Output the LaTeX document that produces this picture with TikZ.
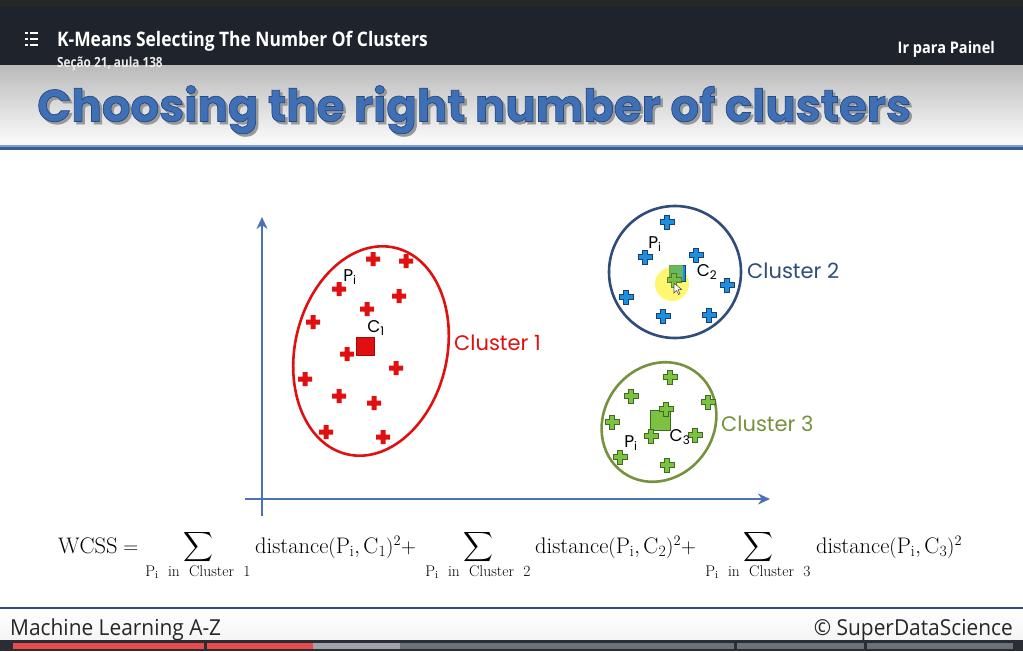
\documentclass[tikz,border=0pt]{standalone}
\usepackage{fontspec}
\usepackage{amsmath}
\setmainfont{Latin Modern Roman}
\newfontfamily\popfont{Poppins}
\newfontfamily\osfont{Open Sans}
\newfontface\poptitle{Poppins Bold}[FakeBold=1.6]
\usetikzlibrary{arrows.meta}
\definecolor{topbar}{HTML}{1F232B}
\definecolor{titleblue}{HTML}{3F6FB5}
\definecolor{titleedge}{HTML}{284A82}
\definecolor{axisblue}{HTML}{4A72B5}
\definecolor{divblue}{HTML}{3A5D96}
\definecolor{cred}{HTML}{E01010}
\definecolor{c2edge}{HTML}{2E4D7B}
\definecolor{bluefill}{HTML}{1B8FE0}
\definecolor{blueedge}{HTML}{1B3F6F}
\definecolor{greenfill}{HTML}{7CC242}
\definecolor{greenedge}{HTML}{3E6B1F}
\definecolor{olive}{HTML}{76923C}
\definecolor{barbg}{HTML}{2A2D33}
\definecolor{barred}{HTML}{E94B4B}
\definecolor{barlight}{HTML}{A0A3A8}
\definecolor{bargray}{HTML}{6C7077}
\tikzset{
  plusmark/.pic={\path[pic actions] (-7,-2.5) -- (-2.5,-2.5) -- (-2.5,-7) -- (2.5,-7) -- (2.5,-2.5) -- (7,-2.5) -- (7,2.5) -- (2.5,2.5) -- (2.5,7) -- (-2.5,7) -- (-2.5,2.5) -- (-7,2.5) -- cycle;},
  redplus/.style={fill=cred},
  blueplus/.style={fill=bluefill,draw=blueedge,line width=1pt},
  greenplus/.style={fill=greenfill,draw=greenedge,line width=1pt},
  lbl/.style={inner sep=0pt,font=\popfont\fontsize{17}{20}\selectfont},
  clab/.style={inner sep=0pt,anchor=west,font=\popfont\fontsize{21}{24}\selectfont},
  axis/.style={draw=axisblue,line width=2.6pt,-{Stealth[length=12pt,width=11pt]}},
  mathtxt/.style={inner sep=0pt,anchor=base west,font=\fontsize{22.5}{27}\selectfont},
  sumsym/.style={inner sep=0pt,font=\fontsize{22.5}{27}\selectfont},
  sublim/.style={inner sep=0pt,anchor=base,font=\fontsize{15.5}{18}\selectfont},
  titlefont/.style={anchor=base west,inner sep=0pt,font=\poptitle\fontsize{45}{50}\selectfont},
}
\begin{document}
\begin{tikzpicture}[x=1pt,y=-1pt]
\useasboundingbox (0,0) rectangle (1023,651);
% backgrounds
\fill[white] (0,0) rectangle (1023,651);
\fill[topbar] (0,0) rectangle (1023,65);
\fill[black!85] (0,0) rectangle (1023,7);
\shade[top color=black!27,bottom color=black!2] (0,65) rectangle (1023,142);
\fill[white!97!black] (0,142) rectangle (1023,146);
\fill[divblue] (0,145) rectangle (1023,150);
\fill[axisblue!70] (0,145) rectangle (1023,146.5);
% top bar content
\foreach \yy in {33,39,45}{\fill[white] (25,\yy-1) rectangle (28,\yy+1); \fill[white] (30,\yy-1) rectangle (38,\yy+1);}
\node[anchor=base west,inner sep=0pt,text=white,font=\osfont\bfseries\fontsize{20}{22}\selectfont,xscale=0.87] (course) at (57,46) {K-Means Selecting The Number Of Clusters};
\node[anchor=base west,inner sep=0pt,text=white!92!black,font=\osfont\bfseries\fontsize{14}{16}\selectfont,xscale=0.84] (section) at (57,67) {Seção 21, aula 138};
\node[anchor=base east,inner sep=0pt,text=white,font=\osfont\bfseries\fontsize{16}{18}\selectfont,xscale=0.91] (painel) at (995,53) {Ir para Painel};
% title
\node[titlefont,text=black!40] (titleshadow) at (39.5,124) {Choosing the right number of clusters};
\node[titlefont,text=titleblue] (title) at (37,121.5) {\special{pdf:code 0.157 0.29 0.51 RG}Choosing the right number of clusters};
% axes
\coordinate (origin) at (262,499);
\coordinate (ytop) at (262,217);
\coordinate (xend) at (770,499);
\coordinate (xstart) at (245,499);
\coordinate (ybot) at (262,516);
\draw[axis] (ybot) -- (ytop);
\draw[axis] (xstart) -- (xend);
% cluster 1
\draw[cred,line width=2.6pt,rotate around={-13:(371,351)}] (371,351) ellipse [x radius=76,y radius=106];
\foreach \p in {(373,259),(406,261),(339,289),(399,296),(367,309),(313,322),(347,354),(396,368),(305,379),(339,396),(374,403),(326,432),(383,437)}
  \pic[redplus] at \p {plusmark};
\node[draw=cred!70!black,fill=cred,minimum size=18pt,inner sep=0pt] (c1) at (365,346) {};
\node[lbl] (c1lab) at (376,328) {C\textsubscript{1}};
\node[lbl] (p1lab) at (350,277) {P\textsubscript{i}};
\node[clab,text=cred] (cl1) at (454,343) {Cluster 1};
% cluster 2
\draw[c2edge,line width=2.6pt] (675,272) circle [radius=66];
\foreach \p in {(667,222),(645,257),(696,255),(727,285),(626,297),(663,316),(709,315)}
  \pic[blueplus] at \p {plusmark};
\fill[yellow!85!white,opacity=0.65] (672,284) circle [radius=17];
\node[draw=blueedge,fill=bluefill,minimum size=16pt,inner sep=0pt] (c2) at (677,273) {};
\fill[greenfill,opacity=0.8] (669,265) rectangle (683,281);
\pic[greenplus,opacity=0.8] at (674,280) {plusmark};
\path[fill=white,draw=black!70,line width=0.6pt] (674,283) -- (674,293) -- (676.5,290.5) -- (678.5,294.5) -- (680,293.8) -- (678,289.8) -- (681.5,289.5) -- cycle;
\node[lbl] (c2lab) at (707,272) {C\textsubscript{2}};
\node[lbl] (p2lab) at (655,244) {P\textsubscript{i}};
\node[clab,text=c2edge] (cl2) at (747,271) {Cluster 2};
% cluster 3
\draw[olive,line width=2.6pt,rotate around={-35:(659,422)}] (659,422) ellipse [x radius=55,y radius=62];
\node[draw=greenedge,fill=greenfill,minimum size=20pt,inner sep=0pt] (c3) at (660,420) {};
\foreach \p in {(670,377),(631,396),(708,402),(666,409),(612,422),(651,436),(695,435),(620,457),(667,465)}
  \pic[greenplus] at \p {plusmark};
\node[lbl] (c3lab) at (680,437) {C\textsubscript{3}};
\node[lbl] (p3lab) at (631,443) {P\textsubscript{i}};
\node[clab,text=olive] (cl3) at (721,424) {Cluster 3};
% formula
\node[mathtxt] (wcss) at (58,553) {$\mathrm{WCSS} =$};
\node[sumsym] (sum1) at (198.5,547) {$\displaystyle\sum$};
\node[sumsym] (sum2) at (478.5,547) {$\displaystyle\sum$};
\node[sumsym] (sum3) at (758.5,547) {$\displaystyle\sum$};
\node[sublim] (lim1) at (198,576) {P$_\mathrm{i}$\ \ in\ \ Cluster\ \ 1};
\node[sublim] (lim2) at (478,576) {P$_\mathrm{i}$\ \ in\ \ Cluster\ \ 2};
\node[sublim] (lim3) at (758,576) {P$_\mathrm{i}$\ \ in\ \ Cluster\ \ 3};
\node[mathtxt] (d1) at (255,553) {$\mathrm{distance}(\mathrm{P_i},\mathrm{C_1})^2{+}$};
\node[mathtxt] (d2) at (535,553) {$\mathrm{distance}(\mathrm{P_i},\mathrm{C_2})^2{+}$};
\node[mathtxt] (d3) at (816,553) {$\mathrm{distance}(\mathrm{P_i},\mathrm{C_3})^2$};
% footer
\fill[c2edge] (0,607) rectangle (1023,609.5);
\shade[top color=white,bottom color=black!4] (0,609.5) rectangle (1023,640);
\node[anchor=base west,inner sep=0pt,font=\osfont\fontsize{22}{24}\selectfont,xscale=0.95,text=black!85] (mla) at (10,635) {Machine Learning A-Z};
\node[anchor=base east,inner sep=0pt,font=\osfont\fontsize{22}{24}\selectfont,xscale=0.95,text=black!85] (sds) at (1013,635) {© SuperDataScience};
\fill[barbg] (0,640) rectangle (1023,651);
\fill[bargray] (13,642.5) rectangle (1013,649);
\fill[barlight] (313,642.5) rectangle (400,649);
\fill[barred] (13,642.5) rectangle (313,649);
\foreach \xx in {205,735,865}{\fill[barbg] (\xx-1.5,640) rectangle (\xx+1.5,651);}
\end{tikzpicture}
\end{document}
